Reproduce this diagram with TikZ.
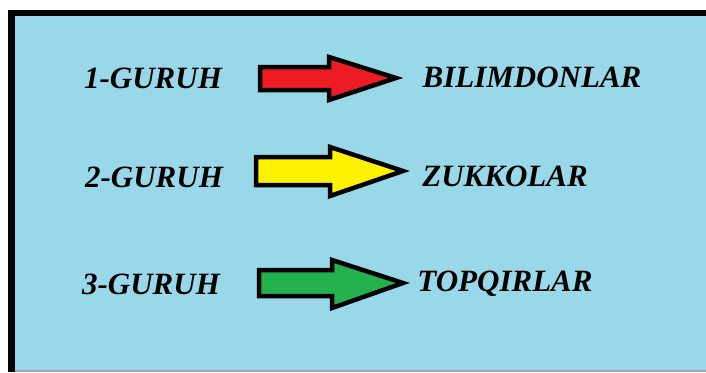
\documentclass[tikz,border=0pt]{standalone}
\usepackage{fontspec}
\setmainfont{Liberation Serif}
\definecolor{bgblue}{RGB}{153,216,233}
\definecolor{ared}{RGB}{237,28,36}
\definecolor{ayellow}{RGB}{255,242,0}
\definecolor{agreen}{RGB}{34,177,76}
\begin{document}
\begin{tikzpicture}[x=1pt,y=-1pt,
  lbl/.style={font=\fontsize{31}{31}\selectfont\bfseries\itshape, text=black, inner sep=0pt},
  arrowshape/.style={draw=black, line width=4.5pt, line join=miter}]
\useasboundingbox (0,0) rectangle (706,372);
\fill[white] (0,0) rectangle (706,372);
% panel
\fill[bgblue] (8,10) rectangle (706,372);
\fill[black] (8,10) rectangle (706,16);
\fill[black] (8,10) rectangle (15,372);
\fill[gray!70] (15,369.5) rectangle (706,372);
% labels
\node[lbl] (g1) at (153,78) {1-GURUH};
\node[lbl] (g2) at (154,177) {2-GURUH};
\node[lbl] (g3) at (151,284) {3-GURUH};
\node[lbl] (r1) at (532,77) {BILIMDONLAR};
\node[lbl] (r2) at (505,176) {ZUKKOLAR};
\node[lbl] (r3) at (505,284) {TOPQIRLAR};
% arrows
\draw[arrowshape, fill=ared]
  (260,67) -- (329,67) -- (329,57) -- (396,78) -- (329,100) -- (329,90) -- (260,90) -- cycle;
\draw[arrowshape, fill=ayellow]
  (256,157) -- (330,157) -- (330,147) -- (403,171) -- (330,196) -- (330,185) -- (256,185) -- cycle;
\draw[arrowshape, fill=agreen]
  (259,270) -- (332,270) -- (332,260) -- (403,283) -- (332,308) -- (332,296) -- (259,296) -- cycle;
\end{tikzpicture}
\end{document}
